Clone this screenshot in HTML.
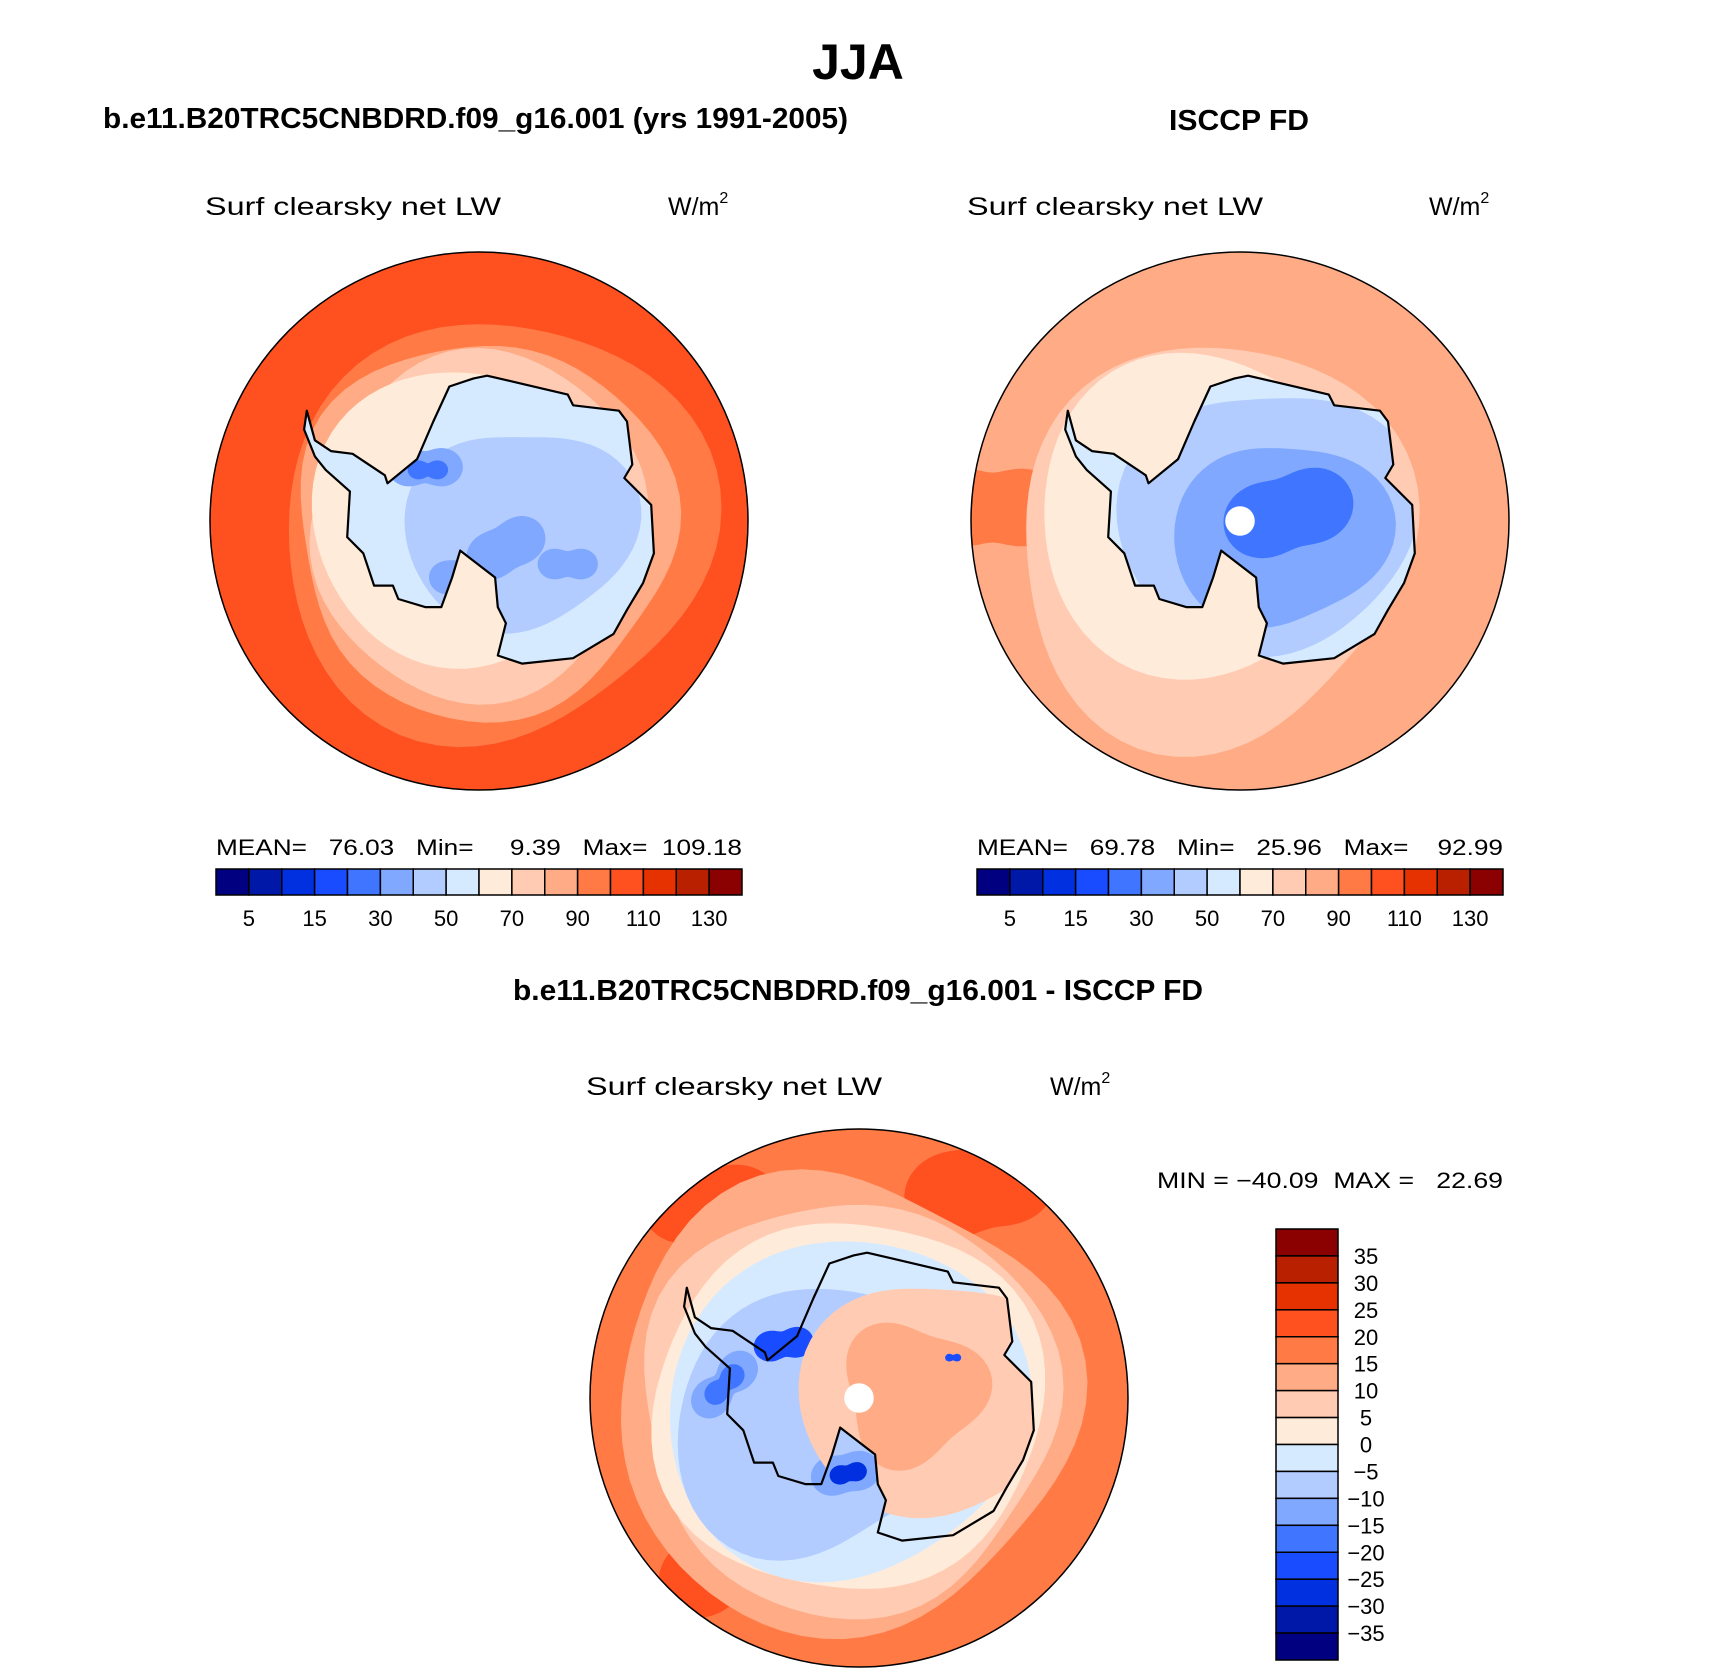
<!DOCTYPE html>
<html><head><meta charset="utf-8"><style>
html,body{margin:0;padding:0;background:#fff}
svg{display:block}
text{font-family:"Liberation Sans",sans-serif;fill:#000}
</style></head><body>
<svg id="fig" width="1710" height="1674" viewBox="0 0 1710 1674" xmlns="http://www.w3.org/2000/svg">
<text x="858" y="79" text-anchor="middle" font-size="50" font-weight="bold">JJA</text>
<text x="103" y="128" font-size="29" font-weight="bold" textLength="745" lengthAdjust="spacingAndGlyphs">b.e11.B20TRC5CNBDRD.f09_g16.001 (yrs 1991-2005)</text>
<text x="1239" y="130" text-anchor="middle" font-size="29" font-weight="bold" textLength="140" lengthAdjust="spacingAndGlyphs">ISCCP FD</text>
<text x="858" y="1000" text-anchor="middle" font-size="29" font-weight="bold" textLength="690" lengthAdjust="spacingAndGlyphs">b.e11.B20TRC5CNBDRD.f09_g16.001 - ISCCP FD</text>

<text x="205" y="215" font-size="25" textLength="296" lengthAdjust="spacingAndGlyphs">Surf clearsky net LW</text>
<text x="668" y="215" font-size="25">W/m<tspan font-size="16" dy="-12">2</tspan></text>
<text x="967" y="215" font-size="25" textLength="296" lengthAdjust="spacingAndGlyphs">Surf clearsky net LW</text>
<text x="1429" y="215" font-size="25">W/m<tspan font-size="16" dy="-12">2</tspan></text>
<text x="586" y="1095" font-size="25" textLength="296" lengthAdjust="spacingAndGlyphs">Surf clearsky net LW</text>
<text x="1050" y="1095" font-size="25">W/m<tspan font-size="16" dy="-12">2</tspan></text>

<text x="216" y="855" font-size="22" xml:space="preserve" textLength="526" lengthAdjust="spacingAndGlyphs">MEAN=   76.03   Min=     9.39   Max=  109.18</text>
<text x="977" y="855" font-size="22" xml:space="preserve" textLength="526" lengthAdjust="spacingAndGlyphs">MEAN=   69.78   Min=   25.96   Max=    92.99</text>
<text x="1157" y="1188" font-size="22" xml:space="preserve" textLength="346" lengthAdjust="spacingAndGlyphs">MIN = −40.09  MAX =   22.69</text>
<g id="layer"></g>
</svg>
<script>
const colors = ["#000080","#0018a8","#0030e0","#1a4cff","#4076ff","#80a8ff","#b3ccff","#d6eaff","#ffebd9","#ffcbb3","#ffab85","#ff7a45","#ff5020","#e63200","#b82000","#8b0000"];
const absLevels = [5,10,15,20,30,40,50,60,70,80,90,100,110,120,130];
const absTickLabels = ["5","15","30","50","70","90","110","130"];
const diffLevels = [-35,-30,-25,-20,-15,-10,-5,0,5,10,15,20,25,30,35];
const diffTickLabels = ["35","30","25","20","15","10","5","0","−5","−10","−15","−20","−25","−30","−35"];
const coastX = [-0.64,-0.61,-0.55,-0.47,-0.35,-0.34,-0.23,-0.17,-0.11,-0.02,0.03,0.16,0.33,0.35,0.52,0.55,0.57,0.54,0.64,0.65,0.61,0.55,0.5,0.35,0.16,0.07,0.1,0.07,0.06,-0.07,-0.1,-0.14,-0.2,-0.3,-0.32,-0.39,-0.43,-0.49,-0.48,-0.57,-0.61,-0.65];
const coastY = [-0.41,-0.3,-0.26,-0.25,-0.17,-0.14,-0.23,-0.37,-0.5,-0.53,-0.54,-0.51,-0.47,-0.43,-0.41,-0.37,-0.21,-0.16,-0.06,0.12,0.23,0.33,0.42,0.51,0.53,0.5,0.38,0.32,0.21,0.11,0.21,0.32,0.32,0.29,0.24,0.24,0.12,0.06,-0.11,-0.19,-0.24,-0.34];
const modelBands = [
 [12,0,0,1.2,[]],
 [11,0.06,0.03,0.79,[[3,0.05,0.5],[2,0.04,1.2]]],
 [10,0.02,0.03,0.7,[[3,0.04,1.0],[5,0.02,0.3]]],
 [9,0.0,0.02,0.63,[[2,0.04,2.4],[4,0.03,0.7]]],
 [8,-0.05,-0.04,0.55,[[1,0.06,3.9],[3,0.03,1.4]]]
];
const modelLand = [[6,0.15,0.03,0.4,[[2,0.1,0.4],[3,0.06,1.1]]],[5,-0.2,-0.2,0.1,[[2,0.4,0]]],[5,0.33,0.16,0.08,[[2,0.4,0]]],[5,0.1,0.1,0.12,[[2,0.3,1]]],[4,-0.19,-0.19,0.05,[[2,0.5,0]]],[5,-0.09,0.21,0.08,[[2,0.2,0]]]];
const obsBands = [
 [10,0,0,1.2,[]],
 [11,-0.92,-0.05,0.2,[[2,0.35,0]]],
 [9,-0.1,0.08,0.74,[[3,0.06,0.8],[2,0.05,2.0]]],
 [8,-0.12,-0.05,0.6,[[1,0.07,3.9],[3,0.04,0.2]]]
];
const obsLand = [[6,0.1,0.0,0.52,[[2,0.08,0.3],[3,0.05,1.5]]],[5,0.15,0.05,0.37,[[2,0.12,0.4],[3,0.05,0.5]]],[4,0.18,-0.03,0.19,[[2,0.3,0.6]]]];
const diffBands = [
 [11,0,0,1.2,[]],
 [12,-0.55,-0.72,0.2,[[2,0.3,0]]],
 [12,0.45,-0.78,0.22,[[2,0.3,0.5]]],
 [12,-0.5,0.62,0.2,[[2,0.3,1]]],
 [10,-0.06,0.02,0.85,[[3,0.05,0.3],[4,0.03,1.0]]],
 [9,-0.04,0.03,0.77,[[3,0.04,1.2],[5,0.02,0.4]]],
 [8,-0.04,0.03,0.71,[[2,0.04,0.6],[4,0.03,2.0]]],
 [7,-0.05,0.04,0.65,[[2,0.05,0.9],[3,0.03,0.4]]],
 [6,-0.15,0.08,0.52,[[2,0.1,1.0],[3,0.06,0.2]]],
 [5,-0.5,-0.05,0.1,[[2,0.5,1.6]]],
 [4,-0.5,-0.05,0.06,[[2,0.5,1.6]]],
 [3,-0.28,-0.2,0.08,[[2,0.4,0.3]]],
 [5,-0.05,0.28,0.1,[[2,0.3,0.4]]],
 [2,-0.04,0.28,0.05,[[2,0.4,0.4]]]
];
const diffLand = [[9,0.28,0.0,0.47,[[2,0.1,0.2],[3,0.05,1.0]]],[10,0.2,-0.02,0.26,[[3,0.15,0.6]]],[3,0.35,-0.15,0.02,[[2,0.5,0]]]];

const NS='http://www.w3.org/2000/svg';
const layer=document.getElementById('layer');
function mk(tag,attrs,parent){const e=document.createElementNS(NS,tag);for(const k in attrs)e.setAttribute(k,attrs[k]);(parent||layer).appendChild(e);return e;}
function blobPath(cx0,cy0,R,b){
  const [ci,cx,cy,r,h]=b;let d='';
  for(let i=0;i<=72;i++){const t=i/72*2*Math.PI;let rr=r;h.forEach(([k,a,p])=>{rr+=r*a*Math.cos(k*t+p);});
    const x=cx0+(cx+rr*Math.cos(t))*R,y=cy0+(cy+rr*Math.sin(t))*R;d+=(i?'L':'M')+x.toFixed(1)+' '+y.toFixed(1);}
  return d+'Z';
}
function coastPath(cx0,cy0,R){let d='';coastX.forEach((x,i)=>{d+=(i?'L':'M')+(cx0+x*R).toFixed(1)+' '+(cy0+coastY[i]*R).toFixed(1);});return d+'Z';}
function drawMap(id,cx,cy,R,bands,land,dot){
  const g=mk('g',{});
  
  
  const cp=mk('clipPath',{id:id+'-clip'},g);mk('circle',{cx:cx,cy:cy,r:R},cp);
  const lp=mk('clipPath',{id:id+'-land'},g);mk('path',{d:coastPath(cx,cy,R)},lp);
  const inner=mk('g',{'clip-path':'url(#'+id+'-clip)'},g);
  bands.forEach(b=>{const p=mk('path',{d:blobPath(cx,cy,R,b),fill:colors[b[0]]},inner);
    
    });
  const lg=mk('g',{'clip-path':'url(#'+id+'-land)'},inner);
  if(id!=='diff') mk('rect',{x:cx-R,y:cy-R,width:2*R,height:2*R,fill:colors[7]},lg);
  land.forEach(b=>{const p=mk('path',{d:blobPath(cx,cy,R,b),fill:colors[b[0]]},lg);
    
    });
  const c=mk('path',{d:coastPath(cx,cy,R),fill:'none',stroke:'#000','stroke-width':2.2,'stroke-linejoin':'round'},g);
  
  
  if(dot){const w=mk('circle',{cx:cx,cy:cy,r:R*0.055,fill:'#fff'},g);
    
    }
  const o=mk('circle',{cx:cx,cy:cy,r:R,fill:'none',stroke:'#000','stroke-width':1.5},g);
  
  
}
drawMap('model',479,521,269,modelBands,modelLand,false);
drawMap('obs',1240,521,269,obsBands,obsLand,true);
drawMap('diff',859,1398,269,diffBands,diffLand,true);

function hbar(id,x0,y0,w,h){
  const g=mk('g',{});
  
  
  const n=colors.length,bw=w/n;
  colors.forEach((c,i)=>{const r=mk('rect',{x:x0+i*bw,y:y0,width:bw,height:h,fill:c,stroke:'#000','stroke-width':1.5},g);
    
    });
  absTickLabels.forEach((t,j)=>{const i=absLevels.indexOf(+t);const tx=mk('text',{x:x0+(i+1)*bw,y:y0+h+31,'text-anchor':'middle','font-size':22},g);tx.textContent=t;
    
    });
}
hbar('model',216,869,526,26);
hbar('obs',977,869,526,26);
(function(){
  const g=mk('g',{});
  
  
  const x0=1276,y0=1229,w=62,H=431,n=colors.length,bh=H/n;
  for(let i=0;i<n;i++){const r=mk('rect',{x:x0,y:y0+i*bh,width:w,height:bh,fill:colors[n-1-i],stroke:'#000','stroke-width':1.5},g);
    
    }
  diffTickLabels.forEach((t,i)=>{const v=diffLevels[diffLevels.length-1-i];const tx=mk('text',{x:1366,y:y0+(i+1)*bh+8,'text-anchor':'middle','font-size':22},g);tx.textContent=t;
    
    });
})();
</script>
</body></html>
